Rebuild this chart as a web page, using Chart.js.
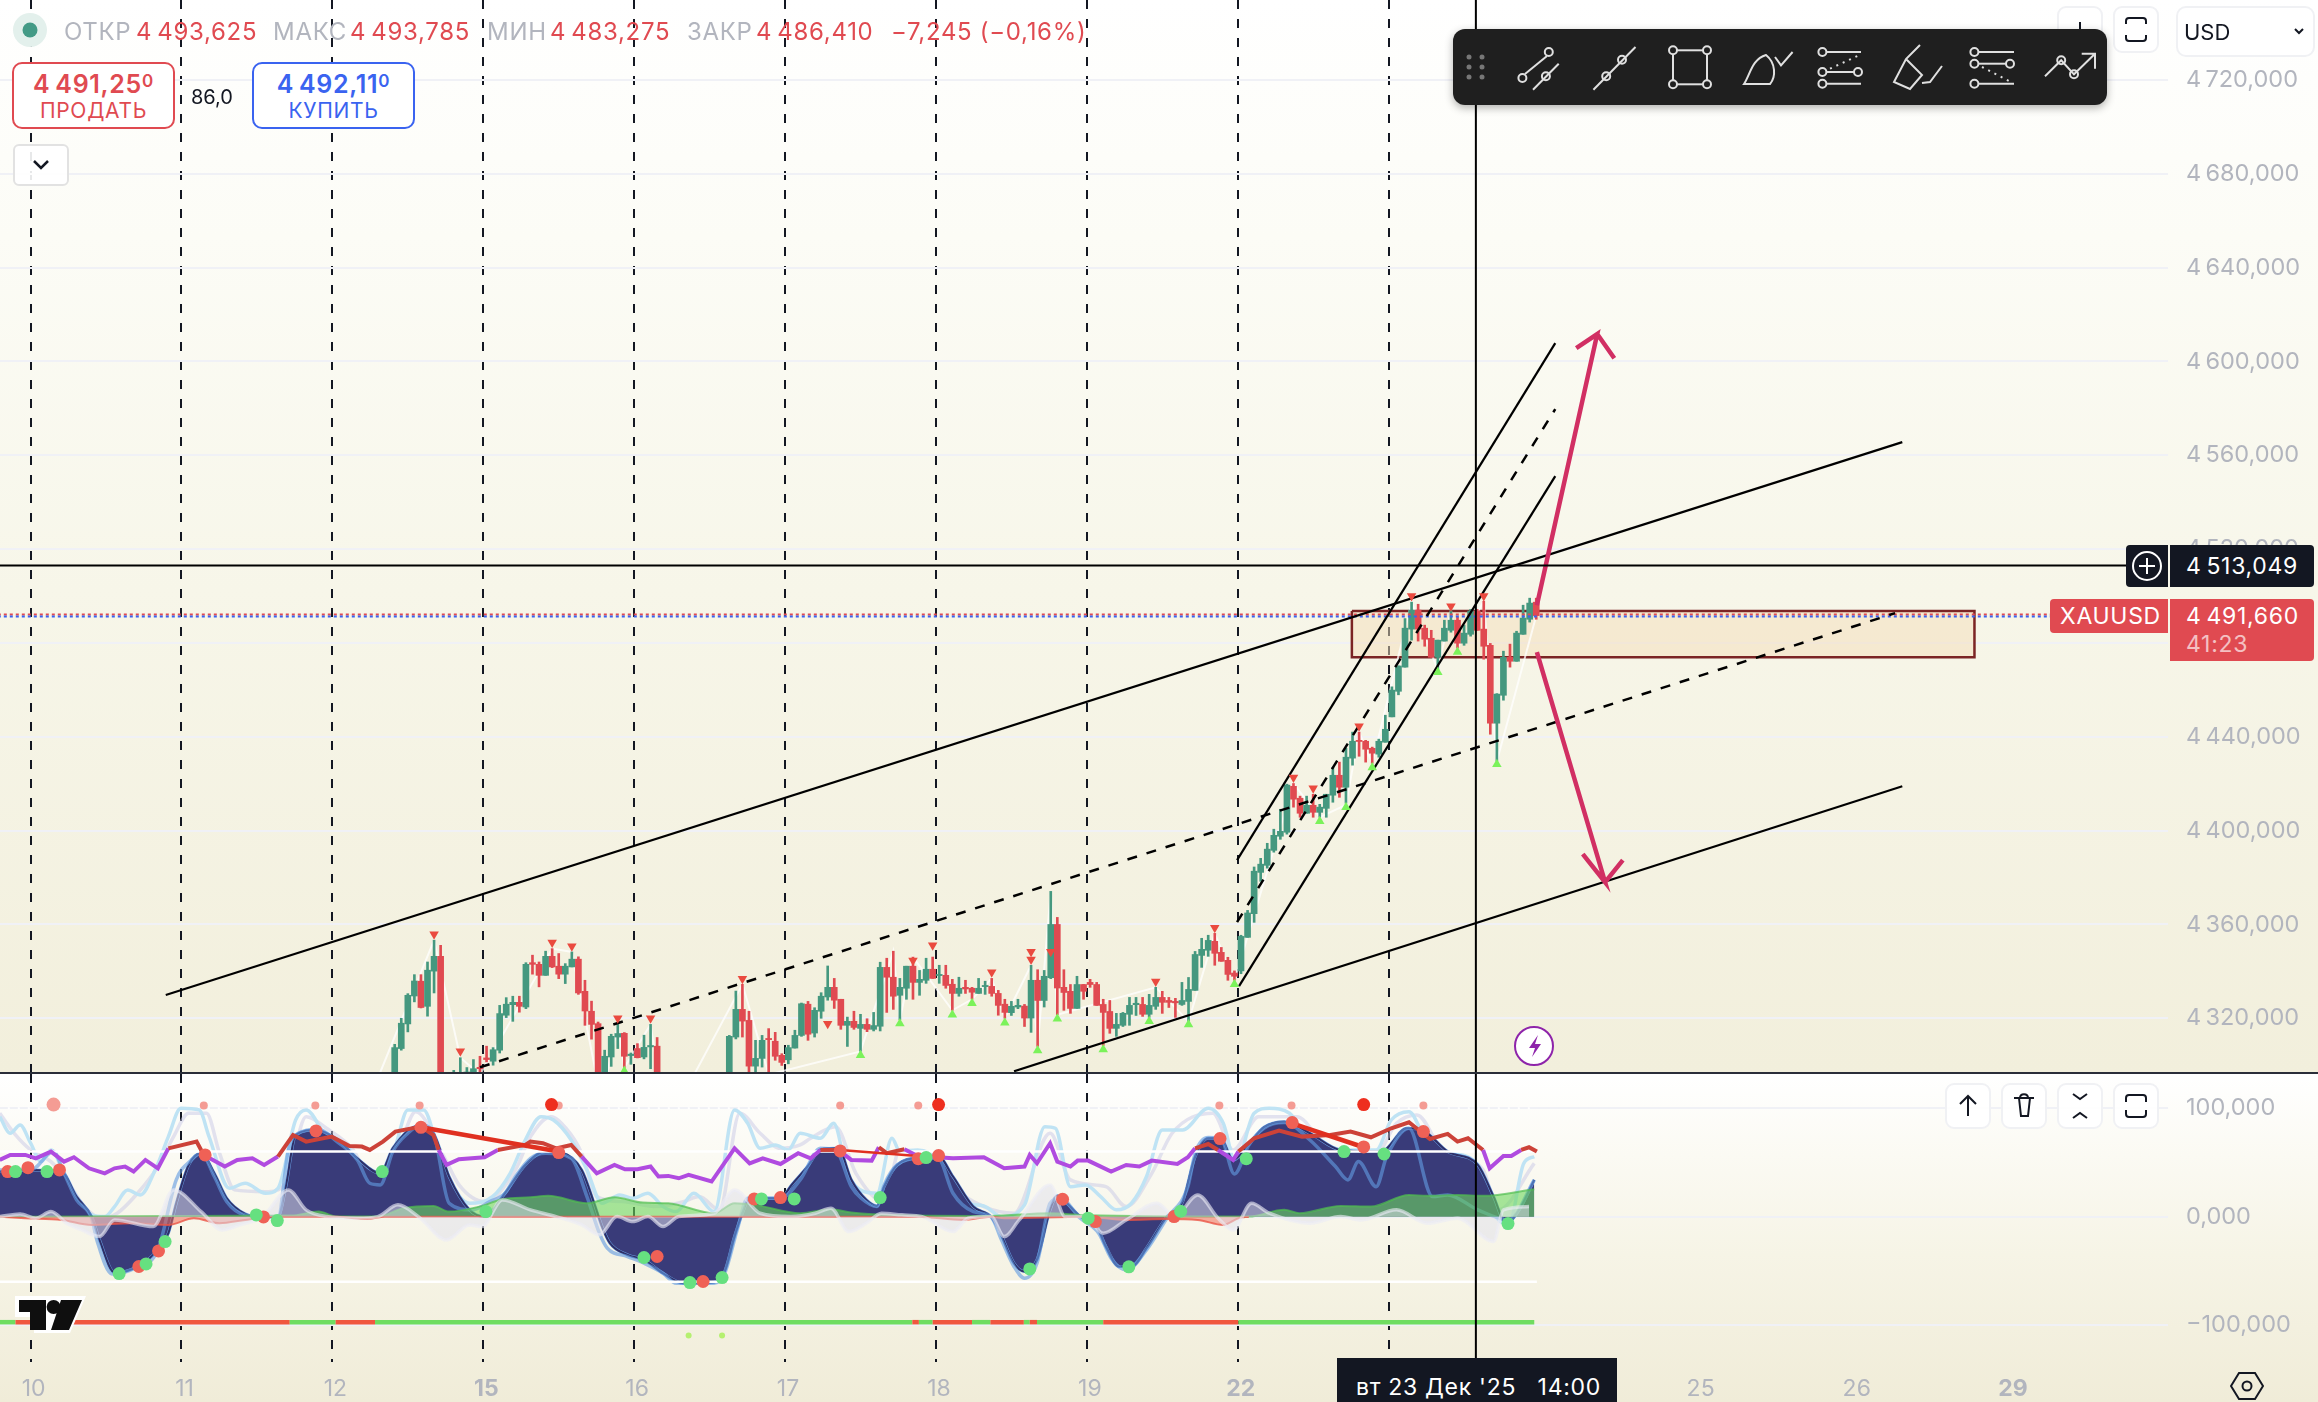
<!DOCTYPE html>
<html lang="ru">
<head>
<meta charset="utf-8">
<title>XAUUSD</title>
<script src="https://cdn.jsdelivr.net/npm/chart.js@4"></script>
<style>
  html, body { margin: 0; padding: 0; width: 2318px; height: 1402px; overflow: hidden; background: #fff; font-family: Inter, sans-serif; }
  #pricePane { position: absolute; left: 0; top: 0; width: 2318px; height: 1072px; background: linear-gradient(#ffffff 0%, #fcfcf6 22%, #f7f6e9 55%, #f2efdc 100%); }
  #oscPane { position: absolute; left: 0; top: 1074px; width: 2318px; height: 328px; background: linear-gradient(#ffffff 0%, #fbfaf3 25%, #f6f4e6 55%, #f0ecd8 100%); }
  #sep { position: absolute; left: 0; top: 1072px; width: 2318px; height: 2px; background: #2a2e39; }
  canvas { position: absolute; left: 0; top: 0; }
  .t { position: absolute; white-space: nowrap; transform: translateY(-50%); font-size: 24px; letter-spacing: .7px; }
  .g { color: #b2b5be; } .r { color: #e04a51; }
  .btn { position: absolute; box-sizing: border-box; background: #fff; border-radius: 10px; text-align: center; letter-spacing: .7px; }
  .ico { position: absolute; box-sizing: border-box; background: rgba(255,255,255,.9); border: 2px solid #f0f1f4; border-radius: 9px; }
  .ico svg, #tools svg { position: absolute; left: 0; top: 0; }
  #tools { position: absolute; left: 1453px; top: 29px; width: 654px; height: 76px; background: #1f1f1f; border-radius: 12px; box-shadow: 0 3px 8px rgba(0,0,0,.3); }
  .lab { position: absolute; box-sizing: border-box; color: #fff; border-radius: 3px; font-size: 23px; }
</style>
</head>
<body>
<div id="pricePane"><canvas id="priceChart" width="2318" height="1072"></canvas></div>
<div id="sep"></div>
<div id="oscPane"><canvas id="oscChart" width="2318" height="328"></canvas></div>

<!-- legend / trade buttons -->
<svg style="position:absolute;left:12px;top:12px" width="38" height="38"><circle cx="18" cy="18" r="17" fill="#e3f0ec"/><circle cx="18" cy="18" r="7.5" fill="#439a86"/></svg>
<span class="t g" style="left:64px;top:31px">ОТКР</span><span class="t r" style="left:136px;top:31px">4&thinsp;493,625</span>
<span class="t g" style="left:273px;top:31px">МАКС</span><span class="t r" style="left:350px;top:31px">4&thinsp;493,785</span>
<span class="t g" style="left:487px;top:31px">МИН</span><span class="t r" style="left:550px;top:31px">4&thinsp;483,275</span>
<span class="t g" style="left:687px;top:31px">ЗАКР</span><span class="t r" style="left:756px;top:31px">4&thinsp;486,410</span>
<span class="t r" style="left:891px;top:31px">−7,245 (−0,16%)</span>

<div class="btn" style="left:12px;top:62px;width:163px;height:67px;border:2px solid #e04a51;color:#e04a51">
  <div style="font-size:25px;font-weight:600;line-height:27px;margin-top:4px">4&thinsp;491,25<span style="font-size:17px;vertical-align:6px">0</span></div>
  <div style="font-size:21px;line-height:26px">ПРОДАТЬ</div>
</div>
<span class="t" style="left:191px;top:97px;font-size:20px;color:#131722;letter-spacing:0">86,0</span>
<div class="btn" style="left:252px;top:62px;width:163px;height:67px;border:2px solid #3a63f0;color:#3a63f0">
  <div style="font-size:25px;font-weight:600;line-height:27px;margin-top:4px">4&thinsp;492,11<span style="font-size:17px;vertical-align:6px">0</span></div>
  <div style="font-size:21px;line-height:26px">КУПИТЬ</div>
</div>
<div class="ico" style="left:13px;top:144px;width:56px;height:42px;border-color:#e2e2e2;border-radius:6px">
  <svg width="52" height="38"><path d="M19 15l7 7 7-7" fill="none" stroke="#131722" stroke-width="2.5"/></svg>
</div>

<!-- top right controls -->
<div class="ico" style="left:2057px;top:6px;width:46px;height:47px"><svg width="42" height="43"><path d="M21 14v14" stroke="#131722" stroke-width="2"/></svg></div>
<div class="ico" style="left:2113px;top:6px;width:46px;height:47px"><svg width="42" height="43"><path d="M11 16v-3a3 3 0 0 1 3-3h14a3 3 0 0 1 3 3v3M11 27v3a3 3 0 0 0 3 3h14a3 3 0 0 0 3-3v-3" fill="none" stroke="#131722" stroke-width="2"/></svg></div>
<div class="ico" style="left:2176px;top:6px;width:139px;height:51px;border-radius:10px">
  <span class="t" style="left:6px;top:24px;font-size:22px;color:#131722;letter-spacing:0">USD</span>
  <svg width="135" height="47"><path d="M117 21l4 4 4-4" fill="none" stroke="#131722" stroke-width="2"/></svg>
</div>

<!-- drawing toolbar -->
<div id="tools"><svg id="toolIcons" width="654" height="76"></svg></div>

<!-- price labels -->
<div class="lab" style="left:2126px;top:545px;width:42px;height:42px;background:#131722;border-radius:4px 0 0 4px">
  <svg width="42" height="42" style="position:absolute;left:0;top:0"><circle cx="21" cy="21" r="14" fill="none" stroke="#fff" stroke-width="2"/><path d="M21 13v16M13 21h16" stroke="#fff" stroke-width="2"/></svg>
</div>
<div class="lab" style="left:2170px;top:545px;width:144px;height:42px;background:#131722;border-radius:0 4px 4px 0"><span class="t" style="left:16px;top:21px;font-size:23px">4&thinsp;513,049</span></div>
<div class="lab" style="left:2050px;top:599px;width:118px;height:34px;background:#e04a51;border-radius:4px 0 0 4px"><span class="t" style="left:10px;top:17px;font-size:23px">XAUUSD</span></div>
<div class="lab" style="left:2170px;top:599px;width:144px;height:62px;background:#e04a51;border-radius:0 4px 4px 0">
  <span class="t" style="left:16px;top:17px;font-size:23px">4&thinsp;491,660</span>
  <span class="t" style="left:16px;top:45px;font-size:23px;opacity:.65">41:23</span>
</div>

<!-- lightning badge -->
<svg style="position:absolute;left:1513px;top:1025px" width="42" height="42"><circle cx="21" cy="21" r="19" fill="#fff" stroke="#8e24aa" stroke-width="2"/><path d="M25 10l-9 13h6l-3 9 9-13h-6z" fill="#8e24aa"/></svg>

<!-- pane buttons -->
<div class="ico" style="left:1945px;top:1083px;width:46px;height:46px"><svg width="42" height="42"><path d="M21 31V11M13 19l8-8 8 8" fill="none" stroke="#131722" stroke-width="2"/></svg></div>
<div class="ico" style="left:2001px;top:1083px;width:46px;height:46px"><svg width="42" height="42"><path d="M11 13h20M16 13l2 18h7l2-18M17 13c0-5 8-5 8 0" fill="none" stroke="#131722" stroke-width="2"/></svg></div>
<div class="ico" style="left:2057px;top:1083px;width:46px;height:46px"><svg width="42" height="42"><path d="M14 9l7 5 7-5M14 33l7-5 7 5" fill="none" stroke="#131722" stroke-width="2"/></svg></div>
<div class="ico" style="left:2113px;top:1083px;width:46px;height:46px"><svg width="42" height="42"><path d="M11 17v-4a3 3 0 0 1 3-3h14a3 3 0 0 1 3 3v4M11 25v4a3 3 0 0 0 3 3h14a3 3 0 0 0 3-3v-4" fill="none" stroke="#131722" stroke-width="2"/></svg></div>

<!-- logo -->
<svg style="position:absolute;left:14px;top:1295px" width="74" height="40">
  <path d="M1 1h71L56 38H20V22H1z" fill="#fff"/>
  <path d="M5 5h27v30H16V17H5z M47 5h21L55 35H37z" fill="#0f0f0f"/><circle cx="39.6" cy="12" r="7" fill="#0f0f0f"/>
</svg>

<!-- crosshair time label -->
<div style="position:absolute;left:1337px;top:1358px;width:280px;height:44px;background:#131722;color:#fff">
  <span class="t" style="left:19px;top:29px;font-size:23px;white-space:pre">вт 23 Дек '25   14:00</span>
</div>
<svg style="position:absolute;left:2230px;top:1370px" width="34" height="32"><path d="M9 3h16l8 13-8 13H9L1 16z" fill="none" stroke="#131722" stroke-width="2"/><circle cx="17" cy="16" r="4.5" fill="none" stroke="#131722" stroke-width="2"/></svg>

<script>
// свечи XAUUSD, часовые, первая видимая свеча = firstBar (пропуски спрятаны под нижней панелью)
const firstBar = 55.5;
const opens = [
  4290,4307.1,4317.6,4329.5,4335.8,4325.1,4340.1,4346.4,null,4290,
  4290,4290,4292,4299.1,4303.1,4301.7,4306.4,4321.3,4325.8,4326.8,
  4324.8,4343.7,4343,4338.3,4346.4,4342.2,4338.8,4341.9,4345.2,4331.5,
  4323,4317.7,4290,4303.5,4312,4313.6,4304.1,4307.1,4303.5,4307.8,
  4308.1,null,null,null,null,null,null,null,null,null,
  null,4290,4312,4323.8,4319.1,4299.6,4302.9,4311.4,4310.2,4304.2,
  4302.3,4307.3,4312.7,4326,4313.7,4323,4329.1,4333.2,4328.1,4317,
  4318.7,4315.7,4317.4,4315.3,4316.6,4341.7,4337.5,4329.8,4332.8,4342.2,
  4335.3,4336.2,4340.9,4338.2,4338.3,4334.5,4330.6,4333.2,4332.8,4330.6,
  4333.5,4333.6,4330.6,4326,4322.4,4324.8,4325.2,4320.1,4336.2,4327.6,
  4337.3,4360,4333.2,4331.5,4324.2,4334.4,4335.3,4334.4,4325.9,4322.9,
  4315.7,4317,4321.7,4325.8,4325.9,4321.7,4325.1,4328.9,4327.6,4327.2,
  4325.9,4327.2,4331.9,4346.8,4349,4352.8,4348.1,4344.7,4339.3,4340.2,
  4354.5,4364.6,4382.2,4385.2,4391.6,4397.6,4399.3,4418.9,4413.8,4407.4,
  4410.8,4407.8,4409.5,4415.1,4423.6,4418.5,4430.9,4438.5,4438.1,4435.1,
  4432.6,4437.7,4448.5,4459.4,4469.7,4485.9,4494,4486.3,4482,4473.9,
  4480.8,4485.4,4489.7,4479.9,4483.7,4493.6,4485.9,4479,4445.8,4457.7,
  4473.9,4472.2,4483.7,4490.1,4497.4
];
const highs = [
  4308.9,4320,4330.5,4338.6,4338.6,4344,4353.3,4351.1,null,4297.8,
  4303.2,4299,4302.4,4303.8,4308.1,4307.5,4325.5,4328.8,4329.4,4329.4,
  4343.7,4346.9,4344,4348.6,4349.7,4347.6,4343.3,4348.3,4346.2,4336.2,
  4327.3,4318.4,4306.4,4313.2,4317.4,4313.9,4305.2,4309.2,4312.8,4317.4,
  4311.8,null,null,null,null,null,null,null,null,null,
  null,4312.7,4331.6,4334.5,4323,4310.6,4312.7,4315.6,4314,4304.9,
  4308.5,4314.9,4326.5,4327.2,4324.5,4330.9,4342.3,4337,4328.1,4320.5,
  4323,4321.7,4319.8,4322.5,4343.9,4345.6,4348.6,4337,4342.2,4346.1,
  4340.4,4345.6,4346.1,4342.6,4342.6,4336.6,4337.5,4336.2,4333.2,4337,
  4335.8,4337,4331.9,4328.1,4327.2,4328.1,4325.9,4342.6,4340.7,4340.4,
  4374.1,4363,4340.7,4334.4,4337.9,4334.4,4336.6,4335.3,4328.1,4327.6,
  4322.1,4322.5,4328.9,4328.9,4328.9,4330.2,4333.2,4331.5,4328.9,4328.5,
  4335.3,4337.4,4348.5,4354.1,4355.4,4356.2,4350.2,4346,4340.2,4355.4,
  4366,4384.5,4388.2,4394.6,4400.6,4409.1,4419.8,4420.1,4414.7,4414.7,
  4415.5,4411.2,4415.5,4427,4429.2,4435.1,4442,4442,4438.5,4435.6,
  4439,4449.2,4461.3,4470.2,4490.4,4497.4,4496.5,4487.6,4485.4,4481.2,
  4489.7,4494,4491.1,4487.6,4494.3,4494.3,4497.8,4479.8,4458.4,4476.5,
  4479.5,4485,4496.1,4499.1,4499.1
];
const lows = [
  4288,4306.4,4314.2,4327,4324.4,4320.9,4330.8,4285,null,4286,
  4286,4286,4288,4296,4301.4,4300,4305.2,4320.3,4318.7,4322.6,
  4324.1,4338.8,4333.4,4338.3,4341.6,4336.9,4334.8,4341.9,4330.2,4317,
  4311.1,4282,4286,4299.5,4307.1,4299,4300.4,4303.1,4302.7,4298.5,
  4286,null,null,null,null,null,null,null,null,null,
  null,4288,4311.2,4312,4292,4292,4299.2,4292,4302.1,4299.9,
  4300.6,4307.3,4312.3,4310.6,4312,4320,4327.7,4324.2,4315.3,4308,
  4315.3,4305.9,4314.3,4314.6,4314.6,4322.5,4323.8,4319.4,4328.1,4328.1,
  4329.8,4334.9,4337,4334.9,4332.8,4323.4,4329.4,4330.6,4328.1,4330.6,
  4330.2,4329.4,4321.3,4320,4321.2,4324.1,4316.5,4314,4308,4324.8,
  4336.9,4321.5,4323.4,4322.1,4324.2,4328.1,4333.2,4325.5,4308.4,4313.6,
  4312.3,4316.5,4317,4321.2,4320.8,4320.4,4323.8,4322.1,4324.6,4320.4,
  4325.5,4318.7,4331.9,4341.7,4346.4,4342.6,4344.3,4336.2,4336.2,4339,
  4354.5,4360.9,4378.4,4384,4390.8,4396.3,4398.5,4410,4405.7,4407.4,
  4405.7,4405.7,4405.7,4412.1,4414.2,4411.7,4427.9,4431.7,4429.2,4428.7,
  4431.3,4437.7,4448.5,4457.9,4469.7,4481.2,4480.8,4478.6,4473.9,4468.4,
  4480.8,4484.6,4477.8,4479,4482.9,4485.4,4473.1,4441.1,4429.6,4455.6,
  4469.7,4472.2,4483.7,4488.9,4490.1
];
const closes = [
  4307.5,4317.9,4329.8,4335.9,4324.6,4340.5,4346.4,4288,null,4294,
  4296,4297.1,4298.5,4298.5,4302.4,4306.6,4322,4326,4326.8,4325.1,
  4343,4343,4338.3,4346.4,4341.9,4338.8,4342.2,4345.2,4330.8,4323.1,
  4317.4,4285,4303.8,4312.3,4313.5,4303.8,4304.7,4303.2,4307.6,4308.4,
  4290,null,null,null,null,null,null,null,null,null,
  null,4312.3,4323.8,4318.8,4299.6,4302.9,4310.6,4310.9,4303.8,4301.2,
  4307.5,4312.7,4326.2,4313.2,4323.4,4329.4,4333.2,4327.7,4317,4318.7,
  4316.1,4317.4,4315.3,4316.9,4341.7,4337.5,4329.4,4333.2,4342.2,4335.3,
  4336.6,4340.9,4337,4338.7,4334,4330.6,4332.8,4332.5,4331.1,4332.8,
  4334,4330.6,4325.5,4322.5,4325.1,4325.5,4320.1,4336.2,4327.6,4337.9,
  4360,4332.9,4331,4324.2,4334.4,4331.5,4334.4,4325.5,4322.5,4315.7,
  4317.4,4322.1,4325.5,4326.4,4321.7,4325.5,4328.9,4326.8,4326.8,4326.6,
  4327.6,4332.3,4347.2,4349.4,4353.2,4347.7,4344.3,4338.7,4337.9,4354.9,
  4364.9,4382.7,4385.7,4392.1,4398,4399.7,4419.4,4413.4,4407.4,4410.8,
  4407.8,4410,4415.5,4423.6,4418.5,4431.3,4438.1,4438,4434.7,4433,
  4438.1,4443.2,4459.9,4470.2,4486.3,4494,4485.9,4481.6,4473.9,4481.2,
  4486.3,4489.7,4479.9,4484.2,4493.6,4485.4,4478.6,4445.8,4458.2,4473.9,
  4472.2,4484.2,4490.6,4497,4491.66
];

// метки разворотов и зигзаг
const peakBars = [61.5,65.5,79.5,82.5,89.5,94.5,108.5,121.5,134.5,137.5,152.5,155.5,146.5,152.5,171.5,180.5,192.5,195.5,202.5,210.5,216.5,221.5];
const peakPrices = [4355.8,4305.9,4352.3,4350.7,4320,4320,4336.9,4317.7,4344.6,4351.1,4348.4,4348.4,4339.6,4345.1,4335.7,4358.6,4422.6,4418.1,4444.5,4500,4495.7,4500];
const troughBars = [90.5,126.5,132.5,140.5,143.5,148.5,153.5,156.5,163.5,170.5,176.5,183.5,196.5,200.5,204.5,214.5,217.5,223.5];
const troughPrices = [4297.5,4304.2,4317.8,4321.5,4326.4,4318.1,4306.3,4319.8,4306.7,4318.7,4317.4,4334.5,4404,4410,4426.9,4467.5,4476.1,4428.3];
const zigzagBars = [53.3,61.5,65.5,68.5,79.5,82.5,87,89.5,90.5,94.5,96,100,108.5,112.5,126.5,131.5,132.5,134.5,140.5,143.5,146.5,148.5,152.5,153.5,155.5,156.5,171.5,176.5,180.5,183.5,192.5,196.5,200.5,202.5,204.5,210.5,214.5,216.5,217.5,221.5,223.5,229.5];
const zigzagPrices = [4297,4353.3,4303.2,4296,4349.7,4348.3,4285,4317.4,4299,4317.4,4290,4290,4334.5,4296,4305.9,4348.6,4319.4,4346.1,4323.4,4328.1,4337,4320,4342.6,4308,4374.1,4321.5,4333.2,4318.7,4356.2,4336.2,4420,4405.7,4411,4442,4428.7,4497.4,4468.4,4494,4477.8,4497.8,4429.6,4491.6];

// разметка на графике: [бар, цена]
const channelTop = [[20.6,4329.9],[285.3,4565.6]];
const channelMid = [[68.5,4299.1],[284.2,4492.7]];
const channelLow = [[149.9,4297.4],[285.3,4418.9]];
const steepTop = [[183.9,4387.4],[232.4,4607.8]];
const steepMid = [[183.9,4361],[232.4,4579.7]];
const steepLow = [[184.2,4333.7],[232.4,4551.1]];
const arrowUp = [[229.6,4496.1],[238.8,4611.7],[235.6,4605.7],[238.8,4611.7],[241.4,4601.4]];
const arrowDown = [[229.6,4476.1],[240,4378],[236.6,4390],[240,4378],[242.7,4387.4]];
const zoneBox = [[201.4,4493.6],[296.3,4493.6],[296.3,4473.9],[201.4,4473.9],[201.4,4493.6]];
const crossBar = 220.3, crossPrice = 4513.049, bidPrice = 4491.25, askPrice = 4492.11;

// оси
const priceTicks = [4320,4360,4400,4440,4480,4520,4560,4600,4640,4680,4720];
const oscTicks = [-100,0,100];
const dayBars = [0,23,46,69,92,115,138,161,184,207,230,254.1,277.9,301.7];
const dayLabels = ['10','11','12','15','16','17','18','19','22','23','24','25','26','29'];
const boldDays = ['15','22','29'];
const lastGridBar = 207;

// осциллятор: основная область
const mainBars = [-4.7,0,4.7,7,9.3,10.5,12.8,16.3,19.4,21,22.2,24.1,26,28,29.9,32.7,35,37.7,38.9,40.4,43.5,46.7,49.8,53.3,55.2,59.1,61.4,63.8,66.9,69.2,72.3,75.4,78.5,80.9,84,85.9,87.1,88.3,91,93.5,96.4,99.5,104.2,105.8,107.3,108.5,109.6,114.3,116,118.5,120.4,123.1,125.1,127.4,129,130.1,132.1,136,138.3,140.6,143.7,146.4,147.6,149.9,151.5,153.4,155.4,156.5,157.7,160,162.4,163.9,165.9,167.8,170.1,173.2,175.6,177.5,179.5,181.4,183.3,185.7,188,191.1,195,199.7,205.9,209.8,212.1,216,220.6,223,224.9,226.9,229.2];
const mainValues = [41.6,43.1,41.6,18.5,0,-21.4,-51.5,-45.9,-30.6,-15.2,12.4,47.7,58.5,40,17,2.6,0,0,27.7,75.3,79.9,71.3,53.8,40,63,83.6,76.9,37,6.3,0.1,21.6,47.7,60,59,43.1,12.4,-9.1,-24.4,-35.2,-39.8,-52.1,-61.3,-60.4,-50.5,-18.3,3.2,17,17,29.3,46.8,62,63,34.1,15.5,9.9,27.7,47.7,54.8,56,37,9.3,0,-12.2,-42.9,-50.5,-39.8,6.3,19.2,13.9,0.1,-7.6,-27.5,-45.9,-45.9,-29,0.1,13.9,55.4,72.3,72.3,52.3,67,82.4,87.6,76.9,61.5,60,81.5,79.9,60,47.7,18.5,-6,6.3,33.9];
const blueBars = [-4.7,0,3.5,5.1,7,9.3,10.1,12.4,15.9,19.4,22.2,24.5,26,28,29.9,32.7,37.7,39.3,40.8,43.9,46.7,49.8,51.7,53.3,55.2,57.5,59.5,61.4,63.8,67.3,70,72.3,73.9,76.2,78.5,82.4,84.8,86.7,87.9,91,93.5,96.4,98.4,104.2,105.8,107.7,109.3,114.3,117.3,120.4,122.7,125.1,126.6,129,130.1,132.1,136,138.3,140.6,143.7,146.4,148,149.9,151.5,153.4,155.4,156.9,160,162.8,164.7,167,170.1,173.2,176.4,177.5,179.5,181.4,183.5,185.7,188,191.1,195,198.9,200.8,202.4,205.1,206.7,210.1,213.7,216,220.6,225.3,229.2];
const blueValues = [43.1,43.1,60,40,15.5,-1.4,-21.4,-52.7,-47.5,-30.6,33.9,52.3,58.5,37,13.9,1.7,-0.2,61.5,76.9,80.6,69.2,52.3,30.8,29.3,60,76.9,84.5,76.9,12.4,6.3,13.9,21.6,37,53.8,58.5,53.8,18.5,-15.2,-29,-36.7,-42.9,-52.1,-61.3,-61.3,-52.1,-12.2,17,17,33.9,63,61.5,27.7,17,9.3,29.3,47.7,53.8,53.8,21.6,4.7,-0.2,-21.4,-45.9,-56.7,-42.9,12.4,17,-1.4,-15.2,-38.3,-49,-30.6,-1.4,27.7,58.5,72.9,72.3,39.4,66.1,81.5,86.7,70.7,46.2,33.9,50.8,27.7,55.4,81.5,18.5,20.1,6.3,-3,33.9];
const skyBars = [-4.7,-3.1,-1.6,0,1.6,3.1,5.1,7.4,9.3,11.3,12.8,14.8,16.7,19.1,21,22.9,25.7,27.2,30.3,32.7,35.8,37.7,40.4,42,45.1,48.2,51.3,53.3,55.6,57.5,59.9,62.2,63.8,66.9,70.4,73.1,75.4,77.8,79.7,82.4,84.8,87.1,89.8,91.8,94.1,96.4,98.4,101.1,104.2,107.3,109.3,111.2,113.5,115.5,117.3,120.4,122.4,124.7,129,131.3,132.5,135.2,138.3,141.4,145.3,148,151.5,154.6,156.2,158.5,160.8,163.1,165.5,167.8,170.1,172.5,175.6,179.5,181.8,183.7,186.5,188.8,191.9,195,199.7,205.1,207.4,210.1,212.5,216,220.6,223,225.3,227.6,229.2];
const skyValues = [92.2,76.9,84.5,67.7,50.8,61.5,40,12.4,1.7,0.1,9.3,24.7,20.1,44.6,73.8,99.9,98.4,73.8,26.2,30.8,21.6,26.2,89.1,98.4,73.8,64.6,40,29.3,64.6,98.4,98.4,60,33.9,12.4,18.5,40,70.7,92.2,89.1,70.7,43.1,12.4,20.1,17,21.6,9.3,4.7,21.6,4.7,98.4,86.1,63,66.1,61.5,76.9,72.3,86.1,37,21.6,72.3,60,61.5,52.3,15.5,9.9,0.1,10.9,83,81.5,27.7,29.3,18.5,6.3,12.4,37,79.9,79.9,99.9,86.1,49.2,95.3,99.9,95.3,69.2,61.5,61.5,89.1,96.8,73.8,60,47.7,3.4,-7.6,49.2,55.4];
const lavenderBars = [-4.7,-2.3,0,3.1,5.5,8.2,10.9,13.2,16.3,19.4,21.8,24.1,26.8,28.8,31.1,35.8,38.9,42,45.1,49,52.1,56,58.7,63,65.3,69.2,73.9,76.2,79.3,81.6,84,86.3,90.2,95.6,99.5,101.9,105,108.1,111.2,114.3,117.3,118.9,122.7,125.8,130.1,132.5,136,139.8,145.3,149.9,155.4,158.5,163.9,167,170.9,174,180.2,183.3,187.2,193,198.1,205.1,208.2,211.3,215.2,221.4,223.7,229.2];
const lavenderValues = [95.3,75.3,61.5,50.8,33.9,9.3,-1.4,3.2,21.6,46.2,73.8,95.3,95.3,58.5,24.7,23.1,30.8,92.2,81.5,63,35.4,61.5,96.8,55.4,29.3,13.9,43.1,73.8,92.2,81.5,58.5,18.5,13.9,9.3,13.9,18.5,6.3,95.3,76.9,63,66.1,72.3,83,40,13.9,61.5,58.5,30.8,9.3,3.2,76.9,33.9,27.7,9.3,40,76.9,95.3,61.5,92.2,92.2,61.5,58.5,86.1,93.8,61.5,43.1,6.3,49.2];
const purpleBars = [-4.7,-3.1,-0.8,0.8,3.1,5.1,6.6,8.9,11.3,12.8,14.4,15.7,17.5,19.4,21,25.3,26.4,29.6,31.5,33.8,35.6,37.7,40,42,45.9,48.6,50.5,51.7,53.7,55.6,59.5,61.4,62.2,63.4,65.3,69.2,71.2,75.4,76.2,78.1,80.1,82.4,84,86.3,89,90.6,92.5,94.5,95.7,97.2,98.8,100.3,103.8,107.3,109.6,111.6,114.3,117,118.9,120.4,123.1,125.1,128.2,129.3,130.5,133.2,135.2,140.6,145.3,148.4,151.5,152.3,153.4,155.4,156.5,158.5,159.6,161.2,164.7,167,169,170.9,174.8,176.4,177.5,179.5,181,183.3,184.1,186.5,190.3,193.8,198.1,201.2,204.3,207.4,210.1,213.3,216,217.5,219.1,221.4,222.4,224.5,225.7,227.2,228.4,229.6];
const purpleValues = [52.3,56.9,56.9,53.8,60,50.8,54.8,44.6,40,44.6,46.2,41.6,52.3,44.6,63,69.2,56.9,46.2,52.3,53.8,47.7,55.4,75.3,69.2,73.8,65.2,64.6,61.5,69.2,78.4,83,75.3,61.5,47.7,52.9,54.8,61.5,66.1,69.2,67.7,63,66.1,55.4,40,47.7,43.7,43.7,46.2,37,37.6,35.4,38.5,32.4,63,49.2,53.8,48.6,58.5,53.8,61.5,61.5,52.3,51.7,64,58.5,62.1,56,53.8,54.8,44.6,46.2,56.9,49.2,67.7,50.8,46.2,51.7,51.7,41.6,47.7,46.2,51.7,48.6,54.8,63,67,61.5,52.3,60,72.3,79.3,73.8,75.3,78.4,73.2,81.5,87,71.6,76.3,69.2,72.3,61.5,44.6,56,56,61.5,64,60];
const whiteBars = [-4.7,-1.6,0.8,3.1,5.5,7.8,10.5,12.8,18.7,21.8,26,29.2,31.9,35.4,39.3,42,45.1,49.8,52.9,56,59.1,63.4,66.9,68.8,71.9,76.2,80.1,84,86.7,89.4,91.8,94.1,96.4,98.8,104.2,107.3,111.2,115.9,119.6,122,124.7,127.4,129.7,132.8,135.9,140.6,142.9,146.4,148.4,150.7,155.4,157.7,160.8,163.5,167,171.7,174.4,177.9,181,183.3,186.1,188.8,195,199.7,202.8,208.2,212.9,217.5,223,224.5,228.4];
const whiteValues = [0.1,2.6,-1.4,4.7,-6,-12.2,-18.3,-3,-9.1,24.7,4.7,-12.2,-7.6,0.1,24.7,6.3,0.1,-1.4,0.1,10.9,0.1,-21.4,-7.6,-9.1,15.5,6.3,0.1,-7.6,-16.8,0.1,-4.5,0.1,-9.1,0.1,3.2,24.7,3.2,0.1,3.2,7.8,-13.7,-6,3.2,1.7,0.1,-13.7,-1.4,0.1,-18.3,-3,29.3,0.1,0.1,-15.2,-3,12.4,0.1,20.1,-1.4,-12.2,12.4,3.2,-6,0.1,-3,6.3,-6,-1.4,-22.9,6.3,9.3];
const greenBars = [-4.7,39.7,43.9,46.7,52.9,56.8,61.4,63.8,68.4,71.9,76.2,78.9,84.8,89,93.3,97.2,104.2,107.3,110.4,117.3,122,125.1,132.8,146.4,155.4,160.8,185.7,191.1,193.4,199.7,204.3,210.1,212.9,217.5,221.4,229.2];
const greenValues = [0,1,4.7,0.1,0.1,7.8,9.9,4.7,9.3,16.1,17.9,19.2,12.4,17.9,13,12.4,3.2,12.4,10.9,3.2,6.9,3.8,1.3,0.7,3.2,1.4,0.1,6.3,3.2,9.9,9.3,20.1,19.2,20.1,19.2,25.3];
const redBars = [-4.7,-0.8,4.7,9.3,15.5,21,24.9,28.8,32.7,37.3,46.7,51.3,54,135.2,142.2,146.4,148.4,160.8,167,173.2,177.9,181.8,184.1,185.7];
const redValues = [0,-1.4,-3,-7.6,-6,-7.6,-1.4,-6,-3,0,0,-2.2,0,0,-3,0,-1.4,0,-3,-2.2,-3,-7.6,-1.4,0];

// точки осциллятора
const redDotBars = [-3.5,-0.4,4.4,16.5,19.5,26.6,35.5,43.5,59.5,80.5,95.5,102.5,110.3,114.3,123.4,135.3,138.4,157.3,162.3,174.3,181.3,192.3,203.2,212.3];
const redDotValues = [41.6,45.2,43.1,-45.9,-31.5,56.9,-0.2,79,82.4,59.1,-36.7,-59.7,16.4,17.6,60.6,53.5,56.3,16.1,-4.5,0.1,72,86.7,64.3,78.4];
const greenDotBars = [-2.3,2.5,13.5,17.6,20.5,34.4,37.6,53.6,69.4,93.5,100.5,105.4,111.4,116.4,129.5,136.5,152.3,161.2,167.4,175.3,185.3,200.2,206.3,225.2];
const greenDotValues = [41.6,41.6,-52.4,-43.5,-22.9,1.6,-3.6,41.6,4.7,-37.6,-60.7,-56.1,16.4,16.4,17.6,54.5,-48.1,-1.4,-46.2,5,53.5,60,57.8,-6.3];
const pinkDotBars = [3.5,26.4,43.4,59.3,80.5,123.4,135.3,181.2,192.2,212.3];
const pinkDotValues = [103.3,102.4,102.4,102.4,102.4,102.4,102.4,102.4,102.4,102.4];
const pinkDotSizes = [7,4,4,4,4,4,4,4,4,4];
const alertBars = [79.4,138.4,203.2];
const alertValues = [103.3,103.3,103.3];
const limeBars = [100.3,105.4];
const limeValues = [-109.5,-109.5];
const divergences = [[[59.5,82.4],[80.5,60]],[[192.3,86],[203.2,64]],[[123.4,61.5],[135.2,56]]];
const levelValues = [60,-60];
const topLevel = 100;
const levelEnd = 229.6;

// полоса состояния
const stateBars = [-4.7,-2.3,39.5,46.5,52.5,134.4,135.4,137.5,143.5,146.3,151.4,152.3,153.4,163.5,184.1,229.2];
const stateFlags = [1,0,1,0,1,0,1,0,1,0,1,0,1,0,1];
const stateLevel = -97.2;

const GREEN = '#45987f', RED = '#e04a51', INK = '#131722', AXIS = '#b2b5be', GRID = '#f0f1f6';
const pts = arr => arr.map(p => ({ x: p[0], y: p[1] }));
const xy = (xs, ys) => xs.map((x, i) => ({ x, y: ys[i] }));
const fmt = v => {
    const s = Math.abs(v).toFixed(3).replace('.', ',');
    const n = s.length > 7 ? s.slice(0, -7) + '\u2009' + s.slice(-7) : s;
    return (v < 0 ? '\u2212' : '') + n;
};

function line(data, color, width, extra) {
    return Object.assign({ type: 'line', data, borderColor: color, borderWidth: width, pointRadius: 0, fill: false, tension: 0 }, extra);
}
function dots(data, color, radius, style, extra) {
    return Object.assign({ type: 'line', data, showLine: false, pointRadius: radius, pointBackgroundColor: color, pointBorderWidth: 0, pointStyle: style || 'circle' }, extra);
}
// первый в списке рисуется снизу
function stack(list) {
    list.forEach((d, i) => { d.order = list.length - i; });
    return list;
}
const noPadX = s => { s.paddingLeft = 0; s.paddingRight = 0; };
const noPadY = s => { s.width = 150; s.paddingTop = 0; s.paddingBottom = 0; };

function scales(yMin, yMax, yTicks, xOpts) {
    return {
        x: Object.assign({
            type: 'linear', min: -4.665, max: 325.8, offset: false,
            afterBuildTicks: s => { s.ticks = dayBars.map(v => ({ value: v })); },
            afterFit: noPadX,
            grid: {
                offset: false, drawTicks: false, lineWidth: 2,
                color: c => (c.tick && c.tick.value <= lastGridBar ? INK : 'transparent')
            },
            border: { display: false, dash: [9, 10] }
        }, xOpts),
        y: {
            position: 'right', min: yMin, max: yMax,
            afterBuildTicks: s => { s.ticks = yTicks.map(v => ({ value: v })); },
            afterFit: noPadY,
            grid: { color: GRID, lineWidth: 2, drawTicks: false },
            border: { display: false },
            ticks: { callback: fmt, color: AXIS, padding: 18, autoSkip: false, font: { family: 'Inter', size: 23.5 } }
        }
    };
}
const base = { responsive: false, animation: false, events: [], layout: { padding: 0, autoPadding: false }, plugins: { legend: { display: false }, tooltip: { enabled: false } } };

// ---- верхняя панель ----
const candleRows = opens.map((o, k) => (o === null ? null : { x: firstBar + k, o, h: highs[k], l: lows[k], c: closes[k] })).filter(Boolean);
const candleColors = candleRows.map(r => (r.c >= r.o ? GREEN : RED));

new Chart(document.getElementById('priceChart'), {
    type: 'bar',
    data: {
        datasets: stack([
            line(pts(zoneBox), '#7b2424', 2.5, { fill: 'shape', backgroundColor: 'rgba(244,222,186,.5)' }),
            line(xy(zigzagBars, zigzagPrices), 'rgba(255,255,255,.75)', 2),
            { type: 'bar', grouped: false, barThickness: 2, backgroundColor: candleColors, data: candleRows.map(r => ({ x: r.x, y: [r.l, r.h] })) },
            { type: 'bar', grouped: false, barThickness: 6, backgroundColor: candleColors, data: candleRows.map(r => ({ x: r.x, y: [r.o, r.c] })) },
            line([{ x: -5, y: askPrice }, { x: 312, y: askPrice }], RED, 2, { borderDash: [3, 3] }),
            line([{ x: -5, y: bidPrice }, { x: 312, y: bidPrice }], '#3a63f0', 2, { borderDash: [3, 3] }),
            line(pts(channelTop), '#000', 2.2),
            line(pts(channelMid), '#000', 2.5, { borderDash: [10, 10] }),
            line(pts(channelLow), '#000', 2.2),
            line(pts(steepTop), '#000', 2.2),
            line(pts(steepMid), '#000', 2.5, { borderDash: [10, 10] }),
            line(pts(steepLow), '#000', 2.2),
            line(pts(arrowUp), '#d12f63', 4.5),
            line(pts(arrowDown), '#d12f63', 4.5),
            dots(xy(peakBars, peakPrices), '#ea4a3f', 5.5, 'triangle', { pointRotation: 180 }),
            dots(xy(troughBars, troughPrices), '#7bf25a', 5.5, 'triangle'),
            line([{ x: -5, y: crossPrice }, { x: 320, y: crossPrice }], '#000', 2),
            line([{ x: crossBar, y: 4297 }, { x: crossBar, y: 4755 }], '#000', 2)
        ])
    },
    options: Object.assign({}, base, {
        scales: scales(4297.1, 4754.1, priceTicks, { ticks: { display: false } })
    })
});

// ---- нижняя панель ----
const smooth = { cubicInterpolationMode: 'monotone' };
const segColor = c => ((c.p0.parsed.y + c.p1.parsed.y) / 2 > 60 ? '#cc4238' : '#b04be0');

new Chart(document.getElementById('oscChart'), {
    type: 'line',
    data: {
        datasets: stack([
            line([{ x: -5, y: topLevel }, { x: levelEnd, y: topLevel }], '#ffffff', 2, { borderDash: [2, 8] }),
            line(xy(lavenderBars, lavenderValues), 'rgba(200,200,230,.5)', 3.5, smooth),
            line(xy(skyBars, skyValues), '#bfe3f4', 3.5, smooth),
            line(xy(mainBars, mainValues), '#6a9ee4', 3, Object.assign({ fill: 'origin', backgroundColor: '#393b79' }, smooth)),
            line(xy(mainBars, mainValues), '#2e2f66', 2, smooth),
            line(xy(blueBars, blueValues), 'rgba(98,155,225,.62)', 3.5, smooth),
            line(xy(greenBars, greenValues), 'rgba(80,190,80,.7)', 2, Object.assign({ fill: 'origin', backgroundColor: 'rgba(110,215,95,.6)' }, smooth)),
            line(xy(redBars, redValues), 'rgba(235,85,70,.8)', 2, Object.assign({ fill: 'origin', backgroundColor: 'rgba(240,110,90,.55)' }, smooth)),
            line(xy(whiteBars, whiteValues), 'rgba(235,235,245,.62)', 3.5, Object.assign({ fill: 'origin', backgroundColor: 'rgba(225,225,235,.52)' }, smooth)),
            ...levelValues.map(v => line([{ x: -5, y: v }, { x: levelEnd, y: v }], '#ffffff', 2.5)),
            line(xy(purpleBars, purpleValues), '#b04be0', 4, { segment: { borderColor: segColor } }),
            ...divergences.map((d, i) => line(pts(d), '#e03020', i === 2 ? 2.5 : 4.5)),
            line(xy(stateBars, stateBars.map(() => stateLevel)), '#6fdd60', 4.5, { segment: { borderColor: c => (stateFlags[c.p0DataIndex] ? '#6fdd60' : '#f0573f') } }),
            dots(xy(pinkDotBars, pinkDotValues), '#f49c94', pinkDotSizes),
            dots(xy(alertBars, alertValues), '#ee2f1f', 6.5),
            dots(xy(limeBars, limeValues), '#b5f070', 3),
            dots(xy(redDotBars, redDotValues), '#ef6156', 6.5),
            dots(xy(greenDotBars, greenDotValues), '#66e080', 6.5),
            line([{ x: crossBar, y: -134 }, { x: crossBar, y: 132 }], '#000', 2)
        ])
    },
    options: Object.assign({}, base, {
        scales: scales(-133.9, 131.5, oscTicks, {
            afterFit: s => { s.height = 40; noPadX(s); },
            afterTickToLabelConversion: s => { s.ticks.forEach((t, i) => { t.label = dayLabels[i]; }); },
            ticks: {
                color: AXIS, padding: 13, labelOffset: 3, autoSkip: false, maxRotation: 0,
                font: c => ({ family: 'Inter', size: 23, weight: c.tick && boldDays.includes(c.tick.label) ? '700' : '400' })
            }
        })
    })
});

// иконки панели инструментов
const node = (x, y) => `<circle cx="${x}" cy="${y}" r="4" fill="none"/>`;
const seg = (a, b, c, d) => `<path d="M${a} ${b}L${c} ${d}" fill="none"/>`;
const dash = (a, b, c, d) => `<path d="M${a} ${b}L${c} ${d}" fill="none" stroke-dasharray="2 5"/>`;
const toolOffsets = [87, 162, 237, 315, 387, 465, 539, 617];
const toolShapes = [
    seg(-15, 7, 7, -11) + node(-17.6, 11) + node(8.8, -15) + seg(-7, 22.7, 18.7, -3.3) + node(5.9, 9.3),
    seg(-21.6, 22.7, 20.5, -20) + node(-8.8, 9.3) + node(7, -7.3),
    seg(-13, -16.7, 13, -16.7) + seg(-17, -13, -17, 13) + seg(17, -13, 17, 13) + seg(-13, 17.3, 13, 17.3) + node(-17, -16.7) + node(17, -16.7) + node(-17, 17.3) + node(17, 17.3),
    '<path d="M-24 17C-18 8 -16 -8 -2 -12C8 -4 8 10 2 17zM7 -10L13 -1.7L24.6 -15" fill="none"/>',
    seg(-13, -15, 21, -15) + node(-17.6, -15) + seg(-13, 5, 14, 5) + node(-17.6, 5) + node(18, 5) + seg(-13, 16.7, 21, 16.7) + node(-17.6, 16.7) + dash(-10, 1.7, 19, -11.7),
    '<path d="M2 -22L-12 -8L-24 15L-8 22L4 8L-12 -8M4 16L12 15L24 -1" fill="none"/>',
    seg(-13, -15, 22, -15) + node(-17.6, -15) + seg(-13, -3.3, 14, -3.3) + node(-17.6, -3.3) + node(18, -3.3) + seg(-13, 16.7, 22, 16.7) + node(-17.6, 16.7) + dash(-10, 0, 19, 15),
    '<path d="M-25 9.3L-8.8 -6.7L4 7.3L25 -13.3M11.7 -13.3H25V1.7" fill="none"/>' + node(-8.8, -6.7) + node(4, 7.3)
];
document.getElementById('toolIcons').innerHTML =
    `<g fill="#777">${[[16, 28], [29, 28], [16, 38], [29, 38], [16, 48], [29, 48]].map(p => `<circle cx="${p[0]}" cy="${p[1]}" r="2.5"/>`).join('')}</g>` +
    toolShapes.map((s, i) => `<g transform="translate(${toolOffsets[i]},38)" stroke="#e0e0e0" stroke-width="2">${s}</g>`).join('');
</script>
</body>
</html>
